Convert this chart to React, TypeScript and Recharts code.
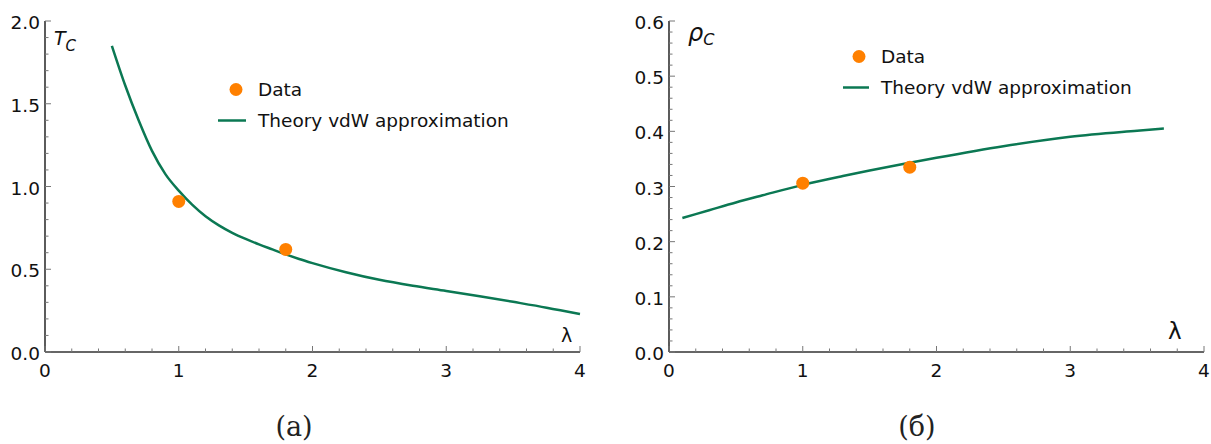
import React from 'react';
import { ComposedChart, Line, Scatter, XAxis, YAxis } from 'recharts';

// panel (a): critical temperature vs lambda
const tcLambda = [0.5, 0.6, 0.7, 0.8, 0.9, 1.0, 1.1, 1.2, 1.3, 1.4, 1.5, 1.6, 1.7, 1.8, 1.9, 2.0, 2.25, 2.5, 2.75, 3.0, 3.25, 3.5, 3.75, 4.0];
const tcTheory = [1.85, 1.61, 1.4, 1.215, 1.075, 0.975, 0.89, 0.82, 0.765, 0.72, 0.683, 0.65, 0.62, 0.59, 0.562, 0.537, 0.482, 0.436, 0.4, 0.369, 0.337, 0.303, 0.268, 0.229];
const tcDataLambda = [1.0, 1.8];
const tcData = [0.91, 0.62];

// panel (б): critical density vs lambda
const rhoLambda = [0.1, 0.3, 0.5, 0.7, 1.0, 1.3, 1.5, 1.8, 2.0, 2.5, 3.0, 3.5, 3.7];
const rhoTheory = [0.243, 0.257, 0.271, 0.284, 0.303, 0.319, 0.329, 0.343, 0.352, 0.373, 0.39, 0.401, 0.405];
const rhoDataLambda = [1.0, 1.8];
const rhoData = [0.306, 0.335];

const xMajor = [0, 1, 2, 3, 4];
const tcMajor = [0, 0.5, 1.0, 1.5, 2.0];
const rhoMajor = [0, 0.1, 0.2, 0.3, 0.4, 0.5, 0.6];

const ORANGE = '#ff8000';
const GREEN = '#0b7853';
const FONT = '"DejaVu Sans", sans-serif';

const steps = (from: number, to: number, step: number) => {
  const out: number[] = [];
  for (let i = 0; from + i * step <= to + 1e-9; i++) out.push(Math.round((from + i * step) * 1e6) / 1e6);
  return out;
};

const makeTick = (axis: 'x' | 'y', majors: number[], fmt: (v: number) => string) => (props: any) => {
  const { x, y, payload } = props;
  const v = payload.value;
  const major = majors.some((m) => Math.abs(m - v) < 1e-6);
  const len = major ? 6 : 3.5;
  if (axis === 'y') {
    return (
      <g>
        <line x1={x} x2={x + len} y1={y} y2={y} stroke="#777" strokeWidth={1} />
        {major && (
          <text x={x - 5} y={y + 8} textAnchor="end" fontSize={18.5} fontFamily={FONT} fill="#111">
            {fmt(v)}
          </text>
        )}
      </g>
    );
  }
  return (
    <g>
      <line x1={x} x2={x} y1={y} y2={y - len} stroke="#777" strokeWidth={1} />
      {major && (
        <text x={x} y={y + 24.5} textAnchor="middle" fontSize={18.5} fontFamily={FONT} fill="#111">
          {fmt(v)}
        </text>
      )}
    </g>
  );
};

const dot = (props: any) => <circle cx={props.cx} cy={props.cy} r={6.5} fill={ORANGE} />;

const axisLine = { stroke: '#333', strokeWidth: 1.6 };

interface PanelProps {
  curveX: number[];
  curveY: number[];
  ptsX: number[];
  ptsY: number[];
  yMax: number;
  yMajor: number[];
  yMinorStep: number;
  yAxisWidth: number;
  width: number;
  marginRight: number;
}

const Panel = ({ curveX, curveY, ptsX, ptsY, yMax, yMajor, yMinorStep, yAxisWidth, width, marginRight }: PanelProps) => {
  const curve = curveX.map((x, i) => ({ x, y: curveY[i] }));
  const pts = ptsX.map((x, i) => ({ x, y: ptsY[i] }));
  return (
    <ComposedChart width={width} height={400} margin={{ top: 21, right: marginRight, bottom: 18, left: 0 }}>
      <XAxis
        type="number"
        dataKey="x"
        domain={[0, 4]}
        ticks={steps(0, 4, 0.2)}
        interval={0}
        height={30}
        tickSize={0}
        tickMargin={0}
        tickLine={false}
        axisLine={axisLine}
        tick={makeTick('x', xMajor, (v) => String(v))}
      />
      <YAxis
        type="number"
        dataKey="y"
        domain={[0, yMax]}
        ticks={steps(0, yMax, yMinorStep)}
        interval={0}
        width={yAxisWidth}
        tickSize={0}
        tickMargin={0}
        tickLine={false}
        axisLine={axisLine}
        tick={makeTick('y', yMajor, (v) => v.toFixed(1))}
      />
      <Line data={curve} dataKey="y" type="monotone" stroke={GREEN} strokeWidth={2.5} dot={false} isAnimationActive={false} />
      <Scatter data={pts} dataKey="y" shape={dot} isAnimationActive={false} />
    </ComposedChart>
  );
};

const Legend = ({ cx, lineX1, lineX2, textX, y1, y2 }: { cx: number; lineX1: number; lineX2: number; textX: number; y1: number; y2: number }) => (
  <g fontFamily={FONT} fontSize={18.5} fill="#111">
    <circle cx={cx} cy={y1 - 6} r={6.5} fill={ORANGE} />
    <text x={textX} y={y1}>Data</text>
    <line x1={lineX1} x2={lineX2} y1={y2 - 6} y2={y2 - 6} stroke={GREEN} strokeWidth={2.5} />
    <text x={textX} y={y2}>Theory vdW approximation</text>
  </g>
);

export default function App() {
  return (
    <div style={{ position: 'absolute', left: 0, top: 0, width: 1211, height: 444, background: '#fff' }}>
      <div style={{ position: 'absolute', left: 0, top: 0 }}>
        <Panel curveX={tcLambda} curveY={tcTheory} ptsX={tcDataLambda} ptsY={tcData} yMax={2} yMajor={tcMajor} yMinorStep={0.1} yAxisWidth={45} width={620} marginRight={40} />
      </div>
      <div style={{ position: 'absolute', left: 620, top: 0 }}>
        <Panel curveX={rhoLambda} curveY={rhoTheory} ptsX={rhoDataLambda} ptsY={rhoData} yMax={0.6} yMajor={rhoMajor} yMinorStep={0.02} yAxisWidth={49} width={591} marginRight={7} />
      </div>
      <svg width={1211} height={444} style={{ position: 'absolute', left: 0, top: 0, pointerEvents: 'none' }}>
        <Legend cx={236} lineX1={218} lineX2={246} textX={258} y1={95.5} y2={126.5} />
        <Legend cx={859} lineX1={843} lineX2={869} textX={881} y1={62.5} y2={93.5} />
        <text x={54} y={45} fontFamily={FONT} fontStyle="italic" fontSize={19} fill="#111">
          T<tspan fontSize={15} dy={6}>C</tspan>
        </text>
        <text x={561} y={342} fontFamily={FONT} fontSize={19} fill="#111">λ</text>
        <text x={688} y={41} fontFamily={FONT} fontStyle="italic" fontSize={24} fill="#111">
          ρ<tspan fontSize={16} dy={4}>C</tspan>
        </text>
        <text x={1168} y={339} fontFamily={FONT} fontSize={23} fill="#111">λ</text>
        <text x={294} y={436} textAnchor="middle" fontFamily='"DejaVu Serif", serif' fontSize={27} fill="#222">(а)</text>
        <text x={917} y={436} textAnchor="middle" fontFamily='"DejaVu Serif", serif' fontSize={27} fill="#222">(б)</text>
      </svg>
    </div>
  );
}
